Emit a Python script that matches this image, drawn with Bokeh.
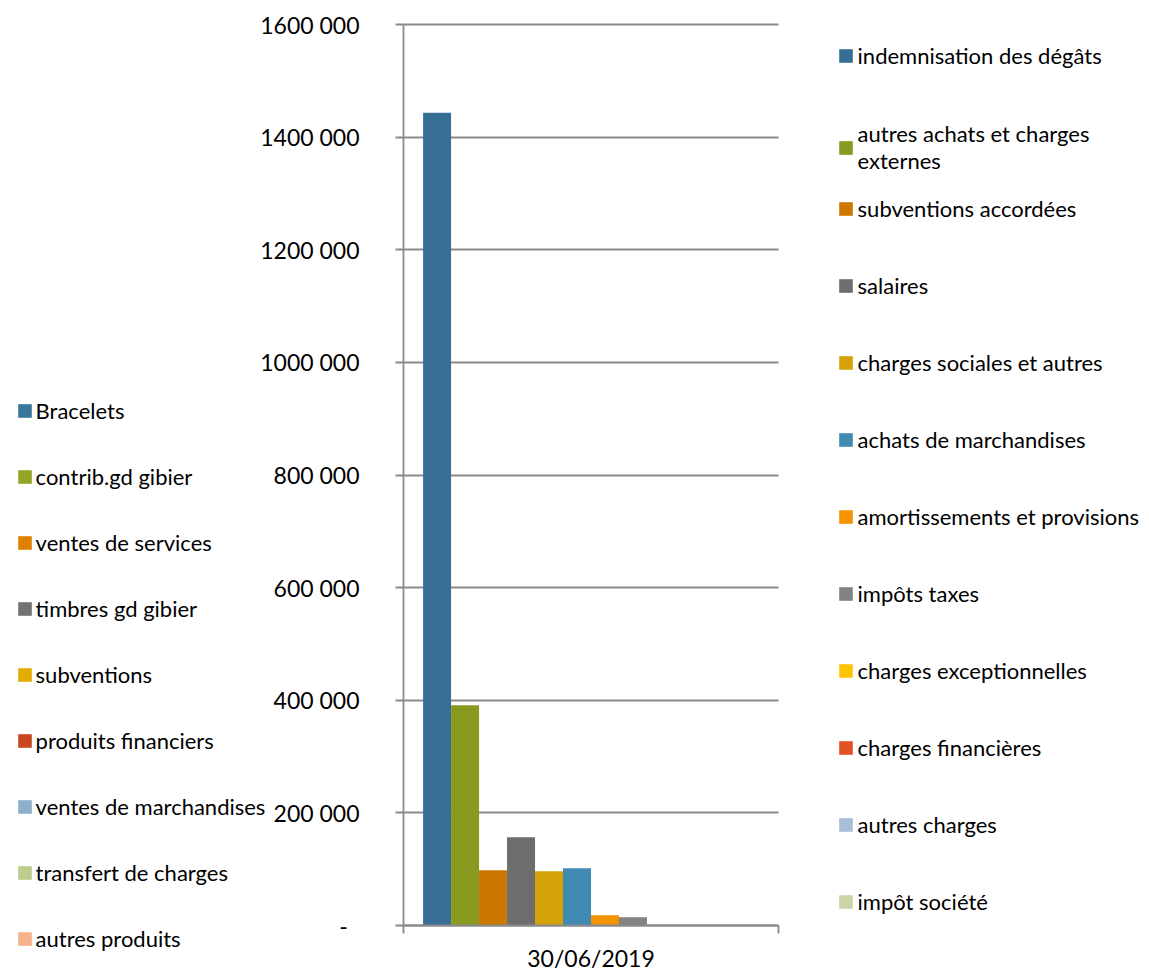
from bokeh.plotting import figure
from bokeh.models import Range1d, Legend, LegendItem, FixedTicker, ColumnDataSource, Grid
from bokeh.transform import dodge
from bokeh.embed import file_html
from bokeh.resources import INLINE

category = "30/06/2019"

charge_names = [
    "indemnisation des dégâts",
    "autres achats et charges\nexternes",
    "subventions accordées",
    "salaires",
    "charges sociales et autres",
    "achats de marchandises",
    "amortissements et provisions",
    "impôts taxes",
    "charges exceptionnelles",
    "charges financières",
    "autres charges",
    "impôt société",
]
charge_values = [1443500, 391000, 98200, 156700, 96400, 101700, 18300, 14700, 0, 0, 0, 0]
charge_colors = ["#376F94", "#8A9A21", "#CC7700", "#6D6D6D", "#D4A307", "#418AB3",
                 "#F49200", "#838383", "#FEC306", "#DF5327", "#A7BFD6", "#CBD5A7"]

produit_names = [
    "Bracelets",
    "contrib.gd gibier",
    "ventes de services",
    "timbres gd gibier",
    "subventions",
    "produits financiers",
    "ventes de marchandises",
    "transfert de charges",
    "autres produits",
]
produit_values = [0, 0, 0, 0, 0, 0, 0, 0, 0]
produit_colors = ["#3A759C", "#94A424", "#DF8000", "#727272", "#E3AC00", "#C8471E",
                  "#8FB0CB", "#BDCE8C", "#F6B28A"]

y_ticks = [0, 200000, 400000, 600000, 800000, 1000000, 1200000, 1400000, 1600000]
y_tick_labels = ["-\u00a0\u00a0", "200 000", "400 000", "600 000", "800 000",
                 "1000 000", "1200 000", "1400 000", "1600 000"]
y_max = 1600000

FONT = "Lato"
FS = "23px"
LFS = "22px"
GRID = "#8A8A8A"

# layout (pixels): plot area inside the canvas
W, H = 1149, 971
PL, PR, PT, PB = 403, 778, 24, 925
px_x = 1.0 / (PR - PL)            # category-width units per pixel
px_y = y_max / (PB - PT)          # value units per pixel

p = figure(x_range=Range1d(-PL * px_x, 1 + (W - PR) * px_x),
           y_range=Range1d(-(H - PB) * px_y, y_max + PT * px_y),
           width=W, height=H, output_backend="svg", toolbar_location=None,
           min_border_left=0, min_border_right=0, min_border_top=0, min_border_bottom=0)
p.outline_line_color = None
p.background_fill_color = "white"
p.border_fill_color = "white"

n = len(charge_names)
bar_w = 1.0 / (n + 1.4)
half_gap = 0.7 * bar_w
cat_center = 0.5

charge_renderers = []
for i, (name, val, col) in enumerate(zip(charge_names, charge_values, charge_colors)):
    src = ColumnDataSource(dict(x=[cat_center], top=[val]))
    off = -0.5 + half_gap + bar_w * (i + 0.5)
    r = p.vbar(x=dodge("x", off), top="top", width=bar_w, source=src,
               fill_color=col, line_color=None)
    charge_renderers.append(r)

produit_renderers = []
for name, val, col in zip(produit_names, produit_values, produit_colors):
    src = ColumnDataSource(dict(x=[cat_center], top=[val]))
    r = p.vbar(x="x", top="top", width=0.0, source=src, fill_color=col, line_color=None)
    produit_renderers.append(r)

# y axis
ya = p.yaxis[0]
ya.fixed_location = 0
ya.bounds = (0, y_max)
ya.ticker = FixedTicker(ticks=y_ticks)
ya.major_label_overrides = {t: l for t, l in zip(y_ticks, y_tick_labels)}
ya.minor_tick_line_color = None
ya.major_tick_in = 0
ya.major_tick_out = 8
ya.major_tick_line_color = GRID
ya.major_tick_line_width = 1.8
ya.axis_line_color = GRID
ya.axis_line_width = 1.8
ya.major_label_standoff = 36
ya.major_label_text_font = FONT
ya.major_label_text_font_size = FS
ya.major_label_text_color = "black"

# x axis (single category, ticks at the category borders)
xa = p.xaxis[0]
xa.fixed_location = 0
xa.bounds = (0, 1)
xa.ticker = FixedTicker(ticks=[cat_center], minor_ticks=[0, 1])
xa.major_label_overrides = {cat_center: category}
xa.major_tick_in = 0
xa.major_tick_out = 0
xa.minor_tick_in = 0
xa.minor_tick_out = 8
xa.minor_tick_line_color = GRID
xa.minor_tick_line_width = 1.8
xa.axis_line_color = GRID
xa.axis_line_width = 1.8
xa.major_label_standoff = 10
xa.major_label_text_font = FONT
xa.major_label_text_font_size = FS
xa.major_label_text_color = "black"

p.xgrid.grid_line_color = None
if "cross_bounds" in Grid.properties():
    p.ygrid.ticker = FixedTicker(ticks=y_ticks)
    p.ygrid.bounds = (0, y_max)
    p.ygrid.cross_bounds = (0, 1)
    p.ygrid.grid_line_color = GRID
    p.ygrid.grid_line_width = 1.8
else:
    p.ygrid.grid_line_color = None
    p.segment(x0=0, x1=1, y0=y_ticks, y1=y_ticks, line_color=GRID, line_width=1.8)


def make_legend(names, renderers, loc, spacing, standoff):
    items = [LegendItem(label=nm, renderers=[r]) for nm, r in zip(names, renderers)]
    lg = Legend(items=items, location=loc, orientation="vertical",
                padding=0, margin=0, spacing=spacing,
                glyph_width=17, glyph_height=17, label_height=30,
                label_standoff=standoff,
                label_text_font=FONT, label_text_font_size=LFS,
                label_text_color="black",
                background_fill_alpha=0, border_line_color=None)
    return lg

left_legend = make_legend(produit_names, produit_renderers, (15.6, 18), 36, 3)
right_a = make_legend(charge_names[:2], charge_renderers[:2], (836.6, 797), 50, 4)
right_b = make_legend(charge_names[2:], charge_renderers[2:], (836.6, 55), 47, 4)
for lg in (left_legend, right_a, right_b):
    p.add_layout(lg, "center")

open("out.html", "w").write(file_html(p, INLINE))
